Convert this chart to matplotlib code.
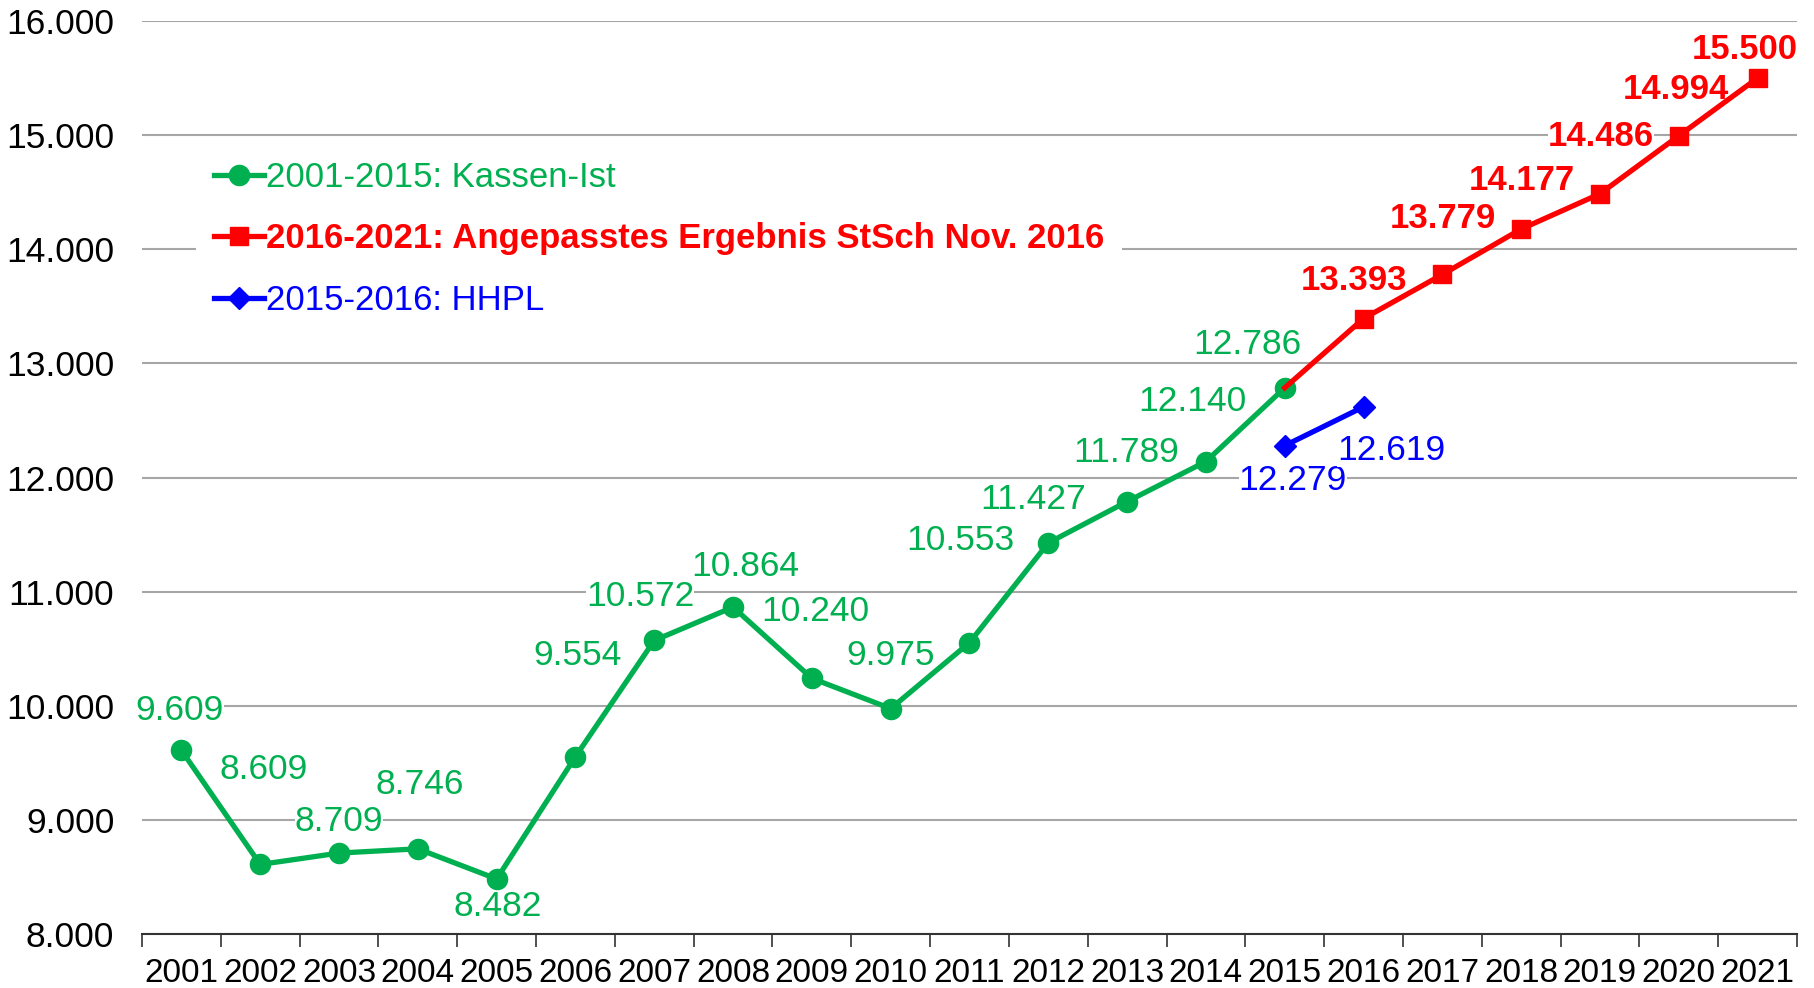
import matplotlib
matplotlib.use('Agg')
import matplotlib.pyplot as plt
from matplotlib.ticker import FixedLocator, FuncFormatter

plt.rcParams['font.family'] = ['Liberation Sans', 'DejaVu Sans']

# Daten
jahre = [str(j) for j in range(2001, 2022)]
kassen_ist = [9609, 8609, 8709, 8746, 8482, 9554, 10572, 10864, 10240, 9975,
              10553, 11427, 11789, 12140, 12786]            # 2001-2015
ergebnis = [12786, 13393, 13779, 14177, 14486, 14994, 15500]  # 2015-2021
hhpl = [12279, 12619]                                         # 2015-2016

name_gruen = '2001-2015: Kassen-Ist'
name_rot = '2016-2021: Angepasstes Ergebnis StSch Nov. 2016'
name_blau = '2015-2016: HHPL'

# Versatz der Beschriftungen (Pixel relativ zum Punkt)
off_gruen = [(-2, 40), (3, 95), (0, 32), (2, 64), (1, -28), (2, 101), (-14, 44),
             (12, 41), (3, 67), (0, 53), (-9, 102), (-15, 43), (-1, 49), (-14, 60),
             (-37, 43)]
off_rot = [(-10, 38), (1, 56), (1, 49), (1, 57), (-3, 46), (-13, 29)]
off_blau = [(8, -35), (28, -44)]

gruen = '#00B050'
rot = '#FF0000'
blau = '#0000FF'


def fmt(v):
    return f'{v:,.0f}'.replace(',', '.')


fig = plt.figure(figsize=(18.14, 9.88), dpi=100)
ax = fig.add_axes([0.0783, 0.0547, 0.9123, 0.924])

x_gruen = list(range(0, 15))
x_rot = list(range(14, 21))
x_blau = [14, 15]

ax.plot(x_gruen, kassen_ist, color=gruen, lw=3.8, marker='o', ms=14.5,
        label=name_gruen, zorder=3)
ax.plot(x_rot, ergebnis, color=rot, lw=3.8, marker='s', ms=13.5,
        markevery=list(range(1, 7)), label=name_rot, zorder=4)
ax.plot(x_blau, hhpl, color=blau, lw=3.8, marker='D', ms=11.5,
        label=name_blau, zorder=4)

# Datenbeschriftungen mit weißem Hintergrund
box = dict(facecolor='white', edgecolor='none', pad=0)
for xi, v, o in zip(x_gruen, kassen_ist, off_gruen):
    ax.annotate(fmt(v), (xi, v), xytext=o, textcoords='offset pixels',
                ha='center', va='center', fontsize=25.5, color=gruen,
                bbox=box, zorder=2)
for xi, v, o in zip(x_rot[1:], ergebnis[1:], off_rot):
    ax.annotate(fmt(v), (xi, v), xytext=o, textcoords='offset pixels',
                ha='center', va='center', fontsize=25, color=rot,
                fontweight='bold', bbox=box, zorder=2)
for xi, v, o in zip(x_blau, hhpl, off_blau):
    ax.annotate(fmt(v), (xi, v), xytext=o, textcoords='offset pixels',
                ha='center', va='center', fontsize=25.5, color=blau,
                bbox=box, zorder=2)

# Achsen
ax.set_xlim(-0.5, 20.5)
ax.set_ylim(8000, 16000)
ax.set_yticks(range(8000, 16001, 1000))
ax.yaxis.set_major_formatter(FuncFormatter(lambda v, p: fmt(v)))
ax.set_xticks(range(21))
ax.set_xticklabels(jahre)
ax.xaxis.set_minor_locator(FixedLocator([i - 0.5 for i in range(22)]))
ax.tick_params(axis='x', which='major', length=0, pad=17, labelsize=24)
ax.tick_params(axis='x', which='minor', length=9, width=1.2, color='#333333')
ax.tick_params(axis='y', length=0, pad=20, labelsize=25.5)

ax.grid(axis='y', color='#A6A6A6', lw=1.5, zorder=0)
ax.set_axisbelow(True)
for s in ['left', 'right', 'top']:
    ax.spines[s].set_visible(False)
ax.spines['bottom'].set_color('#333333')
ax.spines['bottom'].set_linewidth(1.5)

leg = ax.legend(loc='upper left', bbox_to_anchor=(0.0329, 0.866), fontsize=25,
                frameon=True, facecolor='white', edgecolor='none', framealpha=1,
                handlelength=1.45, handletextpad=0.05, labelspacing=0.82,
                borderpad=0.5, borderaxespad=0, numpoints=1, fancybox=False)
leg.set_zorder(5)
farben = [gruen, rot, blau]
for t, c in zip(leg.get_texts(), farben):
    t.set_color(c)
leg.get_texts()[1].set_fontweight('bold')

fig.savefig('out.png', dpi=100)
